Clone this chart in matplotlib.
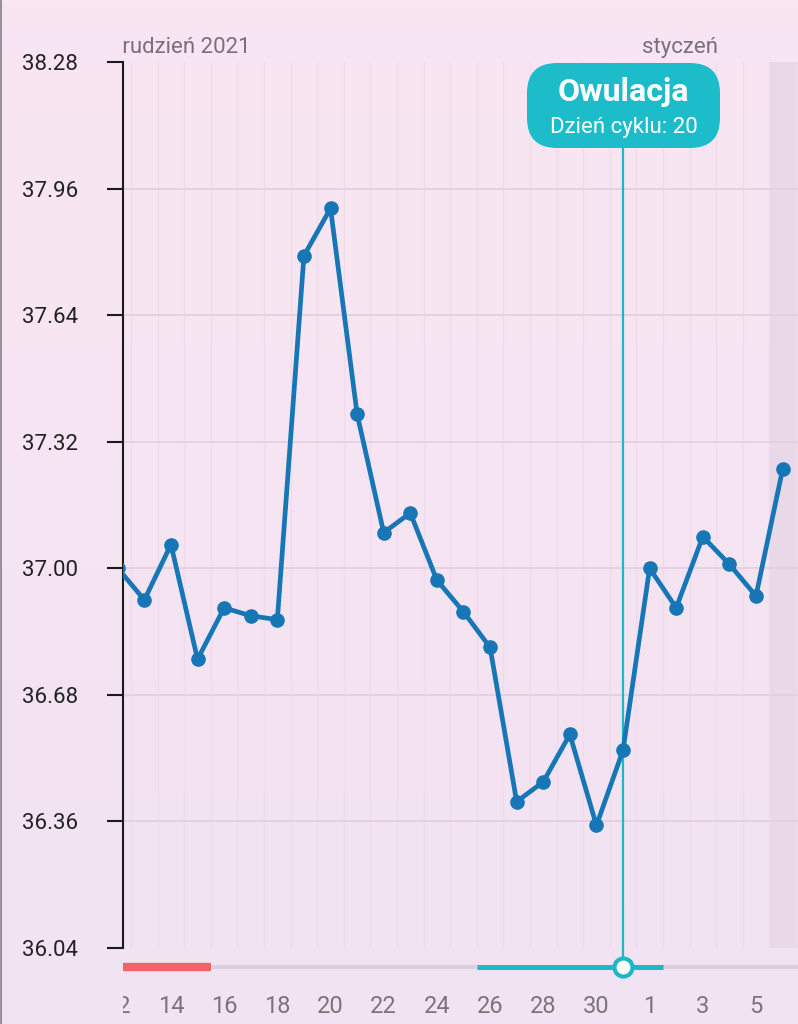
import numpy as np
import matplotlib
matplotlib.use('Agg')
import matplotlib.pyplot as plt
from matplotlib.patches import FancyBboxPatch, Rectangle
from matplotlib.lines import Line2D

plt.rcParams['font.family'] = ['Roboto', 'DejaVu Sans']

# data: temperature per day, 12 Dec 2021 - 6 Jan 2022
days = [12, 13, 14, 15, 16, 17, 18, 19, 20, 21, 22, 23, 24, 25, 26, 27, 28, 29, 30, 31,
        1, 2, 3, 4, 5, 6]
temps = [37.00, 36.92, 37.06, 36.77, 36.90, 36.88, 36.87, 37.79, 37.91, 37.39,
         37.09, 37.14, 36.97, 36.89, 36.80, 36.41, 36.46, 36.58, 36.35, 36.54,
         37.00, 36.90, 37.08, 37.01, 36.93, 37.25]
yticks = [36.04, 36.36, 36.68, 37.00, 37.32, 37.64, 37.96, 38.28]
months = ['grudzień 2021', 'styczeń']
month_pos = [-0.30, 19.71]
ovulation_idx = 19
cycle_day = 20
red_span = (0.0, 3.5)
teal_span = (13.5, 20.5)
today_idx = 25

x = np.arange(len(days))
xlim = (0.196, 25.58)

W, H = 798, 1024
fig = plt.figure(figsize=(W / 100, H / 100), dpi=100)

# background gradient
bg = fig.add_axes([0, 0, 1, 1], zorder=-10)
top = np.array([0xfa, 0xe6, 0xf2]) / 255
bot = np.array([0xf1, 0xe3, 0xf3]) / 255
t = np.linspace(0, 1, 256)[:, None]
grad = (top[None, :] * (1 - t) + bot[None, :] * t)[:, None, :]
bg.imshow(grad, aspect='auto', extent=[0, 1, 0, 1])
bg.add_patch(Rectangle((0, 1 - 62 / H), 1, 30 / H, color='#f8e5f3', lw=0))
bg.add_line(Line2D([0.001, 0.001], [0, 1], color='#9a9098', lw=1.5))
bg.set_xlim(0, 1)
bg.set_ylim(0, 1)
bg.axis('off')

L = 123 / W
ax = fig.add_axes([L, 1 - 948 / H, 1 - L, (948 - 62) / H])
ax.patch.set_alpha(0)
ax.set_xlim(*xlim)
ax.set_ylim(36.04, 38.28)

ax.axvspan(today_idx - 0.5, 27, color='#e8d8e8', lw=0, zorder=0)
for b in np.arange(-0.5, 26.5, 1):
    ax.axvline(b, color='#eedcec', lw=1.0, zorder=1)
for yv in yticks[1:-1]:
    ax.axhline(yv, color='#e3cfe0', lw=1.3, zorder=1)

ax.plot(x, temps, color='#1676b6', lw=3.4, marker='o', ms=9.5, zorder=5,
        solid_joinstyle='round')

box_bottom = 38.28 - (148 - 62) / 395.5
ax.plot([ovulation_idx, ovulation_idx], [36.04, box_bottom], color='#1cb8c8', lw=1.6, zorder=4,
        clip_on=False)

ax.set_yticks(yticks)
ax.set_yticklabels([f'{v:.2f}' for v in yticks])
ax.set_xticks([])
for s in ['top', 'right', 'bottom']:
    ax.spines[s].set_visible(False)
ax.spines['left'].set_linewidth(1.5)
ax.spines['left'].set_color('#1a1a1a')
ax.tick_params(axis='y', length=11.5, width=1.5, color='#1a1a1a', pad=21,
               labelsize=16, labelcolor='#222222')

# header with month names
hdr = fig.add_axes([L, 1 - 62 / H, 1 - L, 30 / H])
hdr.axis('off')
hdr.set_xlim(*xlim)
hdr.set_ylim(0, 1)
for name, pos in zip(months, month_pos):
    hdr.text(pos, 0.3, name, fontsize=16, color='#7a7077', ha='left', va='baseline',
             clip_on=True)

# bottom strip: range bar and day labels
bt = fig.add_axes([L, 0, 1 - L, 76 / H])
bt.axis('off')
bt.set_xlim(*xlim)
bt.set_ylim(1024, 948)
bt.plot([xlim[0], 27], [967, 967], color='#dccfdc', lw=3, solid_capstyle='butt')
bt.plot(red_span, [967, 967], color='#f06468', lw=6, solid_capstyle='butt')
bt.plot(teal_span, [967, 967], color='#1cb8c8', lw=3.6, solid_capstyle='butt')
bt.plot([ovulation_idx, ovulation_idx], [948, 962], color='#1cb8c8', lw=1.6)
bt.plot([ovulation_idx], [967], marker='o', ms=13, mfc='white', mec='#1cb8c8', mew=3)
for i in range(0, len(days), 2):
    bt.text(x[i], 1013, str(days[i]), fontsize=17, color='#7d7479', ha='center',
            va='baseline', clip_on=True)

# ovulation tooltip
bx0, by0, bw, bh = 527 / 100, (H - 148) / 100, 193 / 100, 85 / 100
fig.patches.append(FancyBboxPatch((bx0, by0), bw, bh,
                                  boxstyle='round,pad=0,rounding_size=0.3',
                                  transform=fig.dpi_scale_trans, fc='#1cbccb', ec='none',
                                  zorder=10))
fig.text(6.235, (H - 101) / 100, 'Owulacja', transform=fig.dpi_scale_trans,
         fontsize=23, fontweight='bold', color='white', ha='center', va='baseline', zorder=11)
fig.text(6.235, (H - 133) / 100, f'Dzień cyklu: {cycle_day}', transform=fig.dpi_scale_trans,
         fontsize=16, color='white', ha='center', va='baseline', zorder=11)

fig.savefig('out.png', dpi=100)
